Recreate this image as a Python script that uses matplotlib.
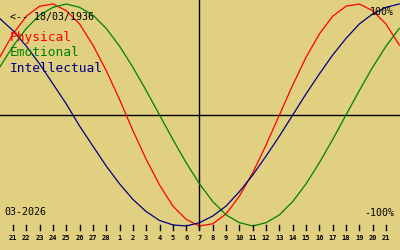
import matplotlib
matplotlib.use("Agg")
import matplotlib.pyplot as plt

# day labels under the ticks (index 0..28), curves also run one day past each end
days = [21, 22, 23, 24, 25, 26, 27, 28] + list(range(1, 22))
day_index = list(range(-1, 30))
today = 14  # 7 March

physical = [0.52, 0.73, 0.89, 0.98, 1.00, 0.94, 0.82, 0.63, 0.40, 0.14,
            -0.14, -0.40, -0.63, -0.82, -0.94, -1.00, -0.98, -0.89, -0.73, -0.52,
            -0.27, 0.00, 0.27, 0.52, 0.73, 0.89, 0.98, 1.00, 0.94, 0.82, 0.63]
emotional = [0.43, 0.62, 0.78, 0.90, 0.97, 1.00, 0.97, 0.90, 0.78, 0.62,
             0.43, 0.22, 0.00, -0.22, -0.43, -0.62, -0.78, -0.90, -0.97, -1.00,
             -0.97, -0.90, -0.78, -0.62, -0.43, -0.22, 0.00, 0.22, 0.43, 0.62, 0.78]
intellectual = [0.87, 0.76, 0.62, 0.46, 0.28, 0.10, -0.10, -0.28, -0.46, -0.62,
                -0.76, -0.87, -0.95, -0.99, -1.00, -0.97, -0.91, -0.82, -0.69, -0.54,
                -0.37, -0.19, 0.00, 0.19, 0.37, 0.54, 0.69, 0.82, 0.91, 0.97, 1.00]

BG = "#E0D080"
MONO = "DejaVu Sans Mono"

fig = plt.figure(figsize=(4, 2.5), dpi=100, facecolor=BG)
ax = fig.add_axes([0, 0, 1, 1])
ax.set_facecolor(BG)
ax.axis("off")

# pixel layout: day 0 at x=13, 13.32 px per day; zero line at y=115, 111 px per unit
step = 13.32
ax.set_xlim(-13 / step, (400 - 13) / step)
ax.set_ylim((115 - 250) / 111, 115 / 111)


def ypix(py):
    return (115 - py) / 111


ax.axhline(0, color="black", lw=1)
ax.plot([today, today], [ypix(229), ypix(0)], color="black", lw=1)

ax.plot(day_index, physical, color="#FF0000", lw=0.9)
ax.plot(day_index, emotional, color="#008000", lw=0.9)
ax.plot(day_index, intellectual, color="#000080", lw=0.9)

for i, d in enumerate(days):
    ax.plot([i, i], [ypix(225), ypix(230)], color="black", lw=1)
    ax.text(i, ypix(238), str(d), ha="center", va="center", fontsize=5,
            family=MONO, fontweight="bold")

fig.text(10 / 400, 1 - 17 / 250, "<-- 18/03/1936", fontsize=7.2, family=MONO,
         va="center", ha="left")
fig.text(10 / 400, 1 - 38 / 250, "Physical", fontsize=9.3, family=MONO,
         color="#FF0000", va="center", ha="left")
fig.text(10 / 400, 1 - 53 / 250, "Emotional", fontsize=9.3, family=MONO,
         color="#008000", va="center", ha="left")
fig.text(10 / 400, 1 - 68 / 250, "Intellectual", fontsize=9.3, family=MONO,
         color="#000080", va="center", ha="left")
fig.text(394 / 400, 1 - 12 / 250, "100%", fontsize=7.2, family=MONO,
         va="center", ha="right")
fig.text(394 / 400, 1 - 213 / 250, "-100%", fontsize=7.2, family=MONO,
         va="center", ha="right")
fig.text(4 / 400, 1 - 212 / 250, "03-2026", fontsize=7.2, family=MONO,
         va="center", ha="left")

fig.savefig("out.png", dpi=100, facecolor=BG)
